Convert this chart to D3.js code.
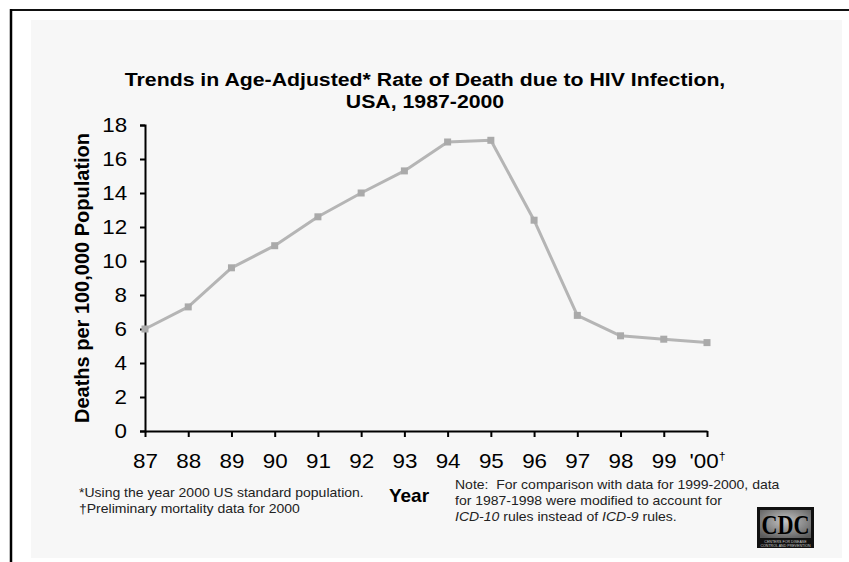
<!DOCTYPE html>
<html>
<head>
<meta charset="utf-8">
<script src="https://cdn.jsdelivr.net/npm/d3@7"></script>
<style>
  body { margin: 0; background: #fff; }
  svg { display: block; font-family: "Liberation Sans", Arial, sans-serif; }
</style>
</head>
<body>
<svg id="chart" width="849" height="562"></svg>
<script>
const years = ["87", "88", "89", "90", "91", "92", "93", "94", "95", "96", "97", "98", "99", "'00"];
const deathRate = [6.0, 7.3, 9.6, 10.9, 12.6, 14.0, 15.3, 17.0, 17.1, 12.4, 6.8, 5.6, 5.4, 5.2];
const yTicks = [0, 2, 4, 6, 8, 10, 12, 14, 16, 18];

const stretch = 1.12; // the original picture is a bit wide, text looks stretched sideways

const svg = d3.select("#chart");

// frame: gray panel plus the top/left border lines
svg.append("rect").attr("x", 31).attr("y", 20).attr("width", 811).attr("height", 538).attr("fill", "#f7f7f7");
svg.append("line").attr("x1", 11).attr("x2", 849).attr("y1", 10).attr("y2", 10).attr("stroke", "#111").attr("stroke-width", 2);
svg.append("line").attr("x1", 11).attr("x2", 11).attr("y1", 9).attr("y2", 562).attr("stroke", "#000").attr("stroke-width", 2.5);

const x = d3.scalePoint().domain(years).range([145, 707]);
const y = d3.scaleLinear().domain([0, 18]).range([431, 125]);

// title
const title = svg.append("g").attr("transform", `translate(425,0) scale(${stretch},1)`)
  .append("text").attr("text-anchor", "middle").attr("font-weight", "bold").attr("font-size", 19).attr("fill", "#000");
title.append("tspan").attr("x", 0).attr("y", 86).text("Trends in Age-Adjusted* Rate of Death due to HIV Infection,");
title.append("tspan").attr("x", 0).attr("y", 108).text("USA, 1987-2000");

// y axis
const yAxis = svg.append("g")
  .attr("transform", "translate(145,0)")
  .call(d3.axisLeft(y).tickValues(yTicks).tickSize(5).tickPadding(11).tickFormat(d3.format("d")));
yAxis.select(".domain").attr("stroke", "#000").attr("stroke-width", 2);
yAxis.selectAll(".tick line").attr("stroke", "#000").attr("stroke-width", 2);
yAxis.selectAll(".tick text").attr("font-size", 20).attr("fill", "#000")
  .attr("font-family", "Liberation Sans, Arial, sans-serif").attr("transform", `scale(${stretch},1)`);

// x axis
const xAxis = svg.append("g")
  .attr("transform", "translate(0,431)")
  .call(d3.axisBottom(x).tickSize(6).tickPadding(17).tickSizeOuter(0));
xAxis.select(".domain").attr("stroke", "#000").attr("stroke-width", 2);
xAxis.selectAll(".tick line").attr("stroke", "#000").attr("stroke-width", 2);
xAxis.selectAll(".tick text").attr("font-size", 20).attr("fill", "#000")
  .attr("font-family", "Liberation Sans, Arial, sans-serif").attr("transform", `scale(${stretch},1)`);
// dagger on the last year
xAxis.selectAll(".tick text").filter(d => d === "'00")
  .append("tspan").attr("dy", -8).attr("font-size", 11).text("†");

// axis titles
svg.append("text")
  .attr("transform", "translate(89,278) rotate(-90)")
  .attr("text-anchor", "middle").attr("font-weight", "bold").attr("font-size", 20)
  .text("Deaths per 100,000 Population");
svg.append("text").attr("x", 409).attr("y", 502).attr("text-anchor", "middle")
  .attr("font-weight", "bold").attr("font-size", 19).text("Year");

// line + square markers
const line = d3.line().x((d, i) => x(years[i])).y(d => y(d));
svg.append("path").datum(deathRate).attr("d", line)
  .attr("fill", "none").attr("stroke", "#b5b5b5").attr("stroke-width", 3).attr("stroke-linejoin", "round");
svg.selectAll(".pt").data(deathRate).join("rect").attr("class", "pt")
  .attr("x", (d, i) => x(years[i]) - 3.5).attr("y", d => y(d) - 3.5)
  .attr("width", 7).attr("height", 7).attr("fill", "#aaaaaa");

// footnotes
const foot = svg.append("g").attr("transform", `translate(79,0) scale(${stretch},1)`)
  .append("text").attr("font-size", 12.5).attr("fill", "#222");
foot.append("tspan").attr("x", 0).attr("y", 497).text("*Using the year 2000 US standard population.");
foot.append("tspan").attr("x", 0).attr("y", 513).text("†Preliminary mortality data for 2000");

const note = svg.append("g").attr("transform", `translate(455,0) scale(${stretch},1)`)
  .append("text").attr("font-size", 12.5).attr("fill", "#222");
note.append("tspan").attr("x", 0).attr("y", 489).text("Note:\u00a0 For comparison with data for 1999-2000, data");
note.append("tspan").attr("x", 0).attr("y", 505).text("for 1987-1998 were modified to account for");
const l3 = note.append("tspan").attr("x", 0).attr("y", 521);
l3.append("tspan").attr("font-style", "italic").text("ICD-10");
l3.append("tspan").text(" rules instead of ");
l3.append("tspan").attr("font-style", "italic").text("ICD-9");
l3.append("tspan").text(" rules.");

// CDC logo
const defs = svg.append("defs");
const grad = defs.append("radialGradient").attr("id", "cdcgrad").attr("cx", "50%").attr("cy", "40%").attr("r", "70%");
grad.append("stop").attr("offset", "0%").attr("stop-color", "#c4c4c4");
grad.append("stop").attr("offset", "100%").attr("stop-color", "#5a5a5a");
const logo = svg.append("g").attr("transform", "translate(757,507)");
logo.append("rect").attr("width", 57).attr("height", 41).attr("fill", "#111");
logo.append("rect").attr("x", 3).attr("y", 3).attr("width", 51).attr("height", 28).attr("fill", "url(#cdcgrad)");
logo.append("text").attr("x", 28.5).attr("y", 27).attr("text-anchor", "middle")
  .attr("font-family", "Liberation Serif, Times New Roman, serif").attr("font-size", 27).attr("font-weight", "bold").attr("fill", "#000")
  .attr("textLength", 48).attr("lengthAdjust", "spacingAndGlyphs").text("CDC");
logo.append("text").attr("x", 28.5).attr("y", 35.5).attr("text-anchor", "middle").attr("font-size", 3.6).attr("fill", "#ccc")
  .text("CENTERS FOR DISEASE");
logo.append("text").attr("x", 28.5).attr("y", 39.5).attr("text-anchor", "middle").attr("font-size", 3.6).attr("fill", "#ccc")
  .text("CONTROL AND PREVENTION");
</script>
</body>
</html>
